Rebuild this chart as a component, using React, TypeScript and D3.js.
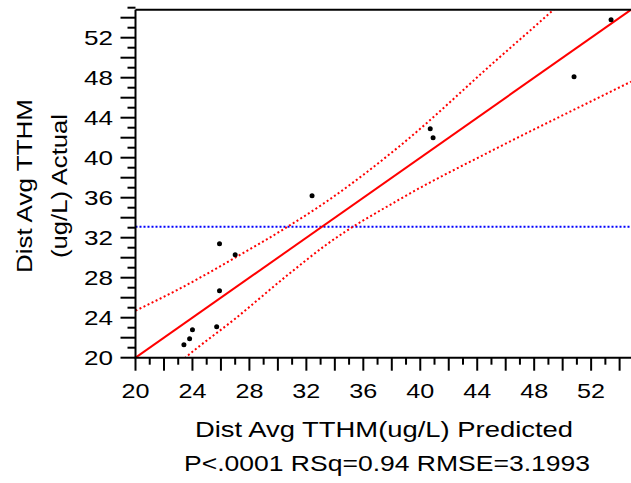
import React from 'react';
import * as d3 from 'd3';

const predicted = [53.4, 50.8, 40.7, 40.9, 32.4, 25.9, 27.0, 25.9, 25.7, 24.0, 23.8, 23.4];
const actual = [53.8, 48.1, 42.9, 42.0, 36.2, 31.4, 30.3, 26.7, 23.1, 22.8, 21.9, 21.3];

// fit line (actual = predicted) and mean of actual
const fitX = [20, 54.8];
const fitY = [20, 54.8];
const meanActual = [33.1];

// confidence curves
const upperX = [20, 23.1, 27.0, 30.8, 33.4, 38.5, 45.3, 49.2, 54.8];
const upperY = [24.7, 26.9, 30.0, 33.2, 35.6, 41.1, 49.7, 54.6, 62.0];
const lowerX = [20, 23.5, 27.0, 30.8, 33.5, 38.5, 45.3, 50.8, 54.8];
const lowerY = [15.3, 20.0, 23.9, 28.4, 31.4, 35.8, 40.9, 44.8, 47.6];

const xTicks = d3.range(20, 55, 1);
const yTicks = d3.range(20, 56, 1);
const xLabels = [20, 24, 28, 32, 36, 40, 44, 48, 52];
const yLabels = [20, 24, 28, 32, 36, 40, 44, 48, 52];

const xTitle = 'Dist Avg TTHM(ug/L) Predicted';
const yTitle = ['Dist Avg TTHM', '(ug/L) Actual'];
const summary = 'P<.0001 RSq=0.94 RMSE=3.1993';

const W = 631;
const H = 483;
const left = 135.5;
const right = 631;
const top = 9.7;
const bottom = 357.7;
const font = "'Liberation Sans', Arial, sans-serif";

export default function App() {
  const x = d3.scaleLinear().domain([20, 54.8]).range([left, right]);
  const y = d3.scaleLinear().domain([20, 54.8]).range([bottom, top]);

  const curve = d3.line<[number, number]>()
    .x(d => x(d[0]))
    .y(d => y(d[1]))
    .curve(d3.curveMonotoneX);

  const straight = d3.line<[number, number]>()
    .x(d => x(d[0]))
    .y(d => y(d[1]));

  const upper = upperX.map((v, i) => [v, upperY[i]] as [number, number]);
  const lower = lowerX.map((v, i) => [v, lowerY[i]] as [number, number]);
  const fit = fitX.map((v, i) => [v, fitY[i]] as [number, number]);

  // the source renders its text wider than Arial; stretch to match
  const stretch = { lengthAdjust: 'spacingAndGlyphs' as const };

  return (
    <svg width={W} height={H} style={{ position: 'absolute', left: 0, top: 0, background: '#fff' }}
      fontFamily={font}>
      <defs>
        <clipPath id="plot">
          <rect x={left} y={top} width={right - left} height={bottom - top} />
        </clipPath>
      </defs>

      <g clipPath="url(#plot)">
        <line x1={left} x2={right} y1={y(meanActual[0])} y2={y(meanActual[0])}
          stroke="#0000ff" strokeWidth={2} strokeDasharray="2,2" />
        <path d={curve(upper) || ''} fill="none" stroke="#ff0000" strokeWidth={2} strokeDasharray="2,2.5" />
        <path d={curve(lower) || ''} fill="none" stroke="#ff0000" strokeWidth={2} strokeDasharray="2,2.5" />
        <path d={straight(fit) || ''} fill="none" stroke="#ff0000" strokeWidth={2} />
        {predicted.map((p, i) => (
          <circle key={i} cx={x(p)} cy={y(actual[i])} r={2.5} fill="#000" />
        ))}
      </g>

      {/* frame */}
      <line x1={left} x2={right} y1={top} y2={top} stroke="#000" strokeWidth={2} />
      <line x1={left} x2={left} y1={top} y2={bottom} stroke="#000" strokeWidth={2} />
      <line x1={left - 1} x2={right} y1={bottom} y2={bottom} stroke="#000" strokeWidth={2} />

      {/* x ticks */}
      {xTicks.map(t => (
        <line key={t} x1={x(t)} x2={x(t)} y1={bottom} y2={bottom + (t % 2 === 0 ? 13 : 7)}
          stroke="#000" strokeWidth={2} />
      ))}
      {xLabels.map(t => (
        <text key={t} x={x(t)} y={397.5} textAnchor="middle" fontSize={21}
          textLength={28} {...stretch}>{t}</text>
      ))}

      {/* y ticks */}
      {yTicks.map(t => (
        <line key={t} x1={left - (t % 2 === 0 ? 15 : 8)} x2={left} y1={y(t)} y2={y(t)}
          stroke="#000" strokeWidth={2} />
      ))}
      {yLabels.map(t => (
        <text key={t} x={113} y={y(t)} textAnchor="end" dominantBaseline="central" fontSize={21}
          textLength={29} {...stretch}>{t}</text>
      ))}

      {/* titles */}
      <text x={384} y={436.7} textAnchor="middle" fontSize={22}
        textLength={378} {...stretch}>{xTitle}</text>
      <text x={387} y={471} textAnchor="middle" fontSize={22}
        textLength={406} {...stretch}>{summary}</text>
      {yTitle.map((s, i) => (
        <text key={i} transform={`translate(${31.7 + i * 35},${186}) rotate(-90)`}
          textAnchor="middle" fontSize={22} textLength={i === 0 ? 174 : 144} {...stretch}>{s}</text>
      ))}
    </svg>
  );
}
